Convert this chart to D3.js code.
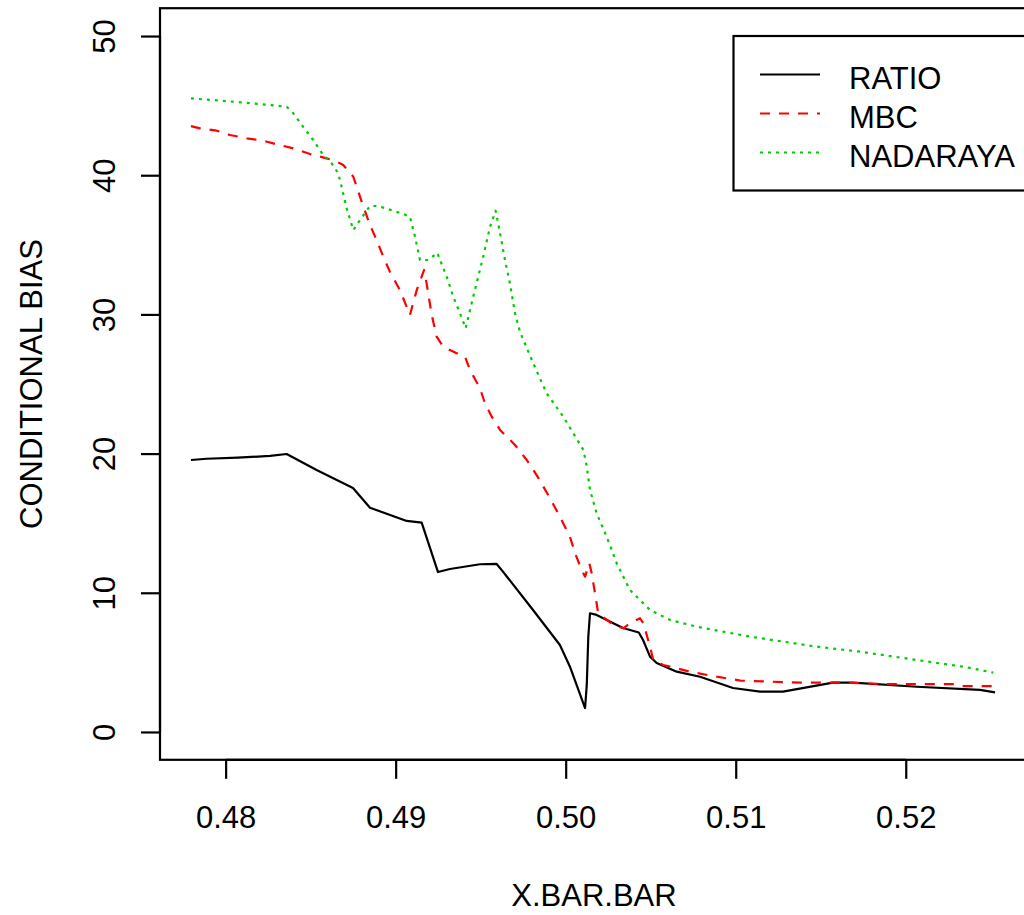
<!DOCTYPE html>
<html>
<head>
<meta charset="utf-8">
<script src="https://cdn.jsdelivr.net/npm/d3@7"></script>
<style>
  body { margin: 0; background: #fff; }
  svg { display: block; font-family: Arial, "Liberation Sans", sans-serif; }
</style>
</head>
<body>
<svg id="chart" width="1024" height="915"></svg>
<script>
// values: [x.bar.bar, conditional bias]
const ratio = [
  [0.47796,19.54],[0.47888,19.63],[0.48072,19.71],[0.48261,19.83],[0.48359,19.97],
  [0.48535,18.82],[0.48749,17.53],[0.48849,16.11],[0.49065,15.16],[0.49153,15.04],
  [0.49249,11.49],[0.49319,11.71],[0.49496,12.05],[0.49594,12.07],[0.49631,11.52],
  [0.49808,8.76],[0.49966,6.25],[0.50025,4.69],[0.50114,1.72],[0.50124,3.38],
  [0.50133,6.85],[0.50143,8.53],[0.50182,8.41],[0.50337,7.47],[0.50430,7.15],
  [0.50455,6.61],[0.50496,5.41],[0.50535,4.96],[0.50653,4.33],[0.50790,3.97],
  [0.50984,3.16],[0.51143,2.90],[0.51278,2.90],[0.51572,3.54],[0.51690,3.54],
  [0.52065,3.25],[0.52437,3.02],[0.52525,2.85]
];

const mbc = [
  [0.47796,43.53],[0.47849,43.37],[0.47947,43.20],[0.48025,42.89],[0.48124,42.65],
  [0.48221,42.48],[0.48300,42.22],[0.48398,41.93],[0.48496,41.52],[0.48594,41.21],
  [0.48643,41.04],[0.48692,40.73],[0.48751,39.89],[0.48800,38.10],[0.48849,36.42],
  [0.48888,35.34],[0.48927,34.15],[0.48966,33.07],[0.49025,31.75],[0.49084,29.96],
  [0.49124,31.75],[0.49167,33.19],[0.49182,32.23],[0.49212,29.96],[0.49241,28.40],
  [0.49280,27.68],[0.49359,27.21],[0.49408,26.96],[0.49437,26.01],[0.49496,24.69],
  [0.49525,23.61],[0.49565,22.65],[0.49614,21.70],[0.49702,20.62],[0.49771,19.54],
  [0.49829,18.46],[0.49908,16.79],[0.49966,15.47],[0.50025,14.03],[0.50055,12.84],
  [0.50094,11.64],[0.50114,11.16],[0.50139,12.12],[0.50153,11.40],[0.50182,9.25],
  [0.50191,8.53],[0.50280,7.69],[0.50339,7.45],[0.50378,7.81],[0.50437,8.17],
  [0.50457,7.81],[0.50496,6.13],[0.50515,5.17],[0.50574,4.81],[0.50653,4.58],
  [0.50731,4.33],[0.50888,3.97],[0.51028,3.69],[0.51379,3.54],[0.51653,3.54],
  [0.51889,3.43],[0.52280,3.43],[0.52339,3.30],[0.52525,3.30]
];

const nadaraya = [
  [0.47796,45.52],[0.47947,45.38],[0.48084,45.24],[0.48221,45.09],[0.48359,44.92],
  [0.48398,44.45],[0.48456,43.48],[0.48515,42.53],[0.48574,41.45],[0.48624,40.85],
  [0.48662,40.14],[0.48682,39.17],[0.48712,37.62],[0.48751,36.06],[0.48790,36.78],
  [0.48849,37.79],[0.48898,37.79],[0.49045,37.21],[0.49084,37.02],[0.49114,35.58],
  [0.49143,33.91],[0.49192,33.91],[0.49245,34.43],[0.49261,33.91],[0.49300,32.71],
  [0.49339,31.27],[0.49378,30.08],[0.49412,29.00],[0.49456,31.27],[0.49515,34.15],
  [0.49555,36.30],[0.49588,37.45],[0.49614,35.83],[0.49643,33.91],[0.49672,32.23],
  [0.49702,30.08],[0.49731,28.76],[0.49809,26.49],[0.49888,24.33],[0.49986,22.65],
  [0.50104,20.26],[0.50124,19.06],[0.50143,17.39],[0.50182,15.71],[0.50241,14.03],
  [0.50300,12.12],[0.50378,10.20],[0.50496,8.76],[0.50614,8.05],[0.50771,7.56],
  [0.51084,6.85],[0.51476,6.13],[0.51731,5.77],[0.52065,5.17],[0.52359,4.65],
  [0.52515,4.26]
];

const xTicks = [0.48, 0.49, 0.50, 0.51, 0.52];
const yTicks = [0, 10, 20, 30, 40, 50];
const seriesNames = ['RATIO', 'MBC', 'NADARAYA'];

const series = [
  { name: seriesNames[0], data: ratio, color: '#000000', dash: null },
  { name: seriesNames[1], data: mbc, color: '#FF0000', dash: '10,9' },
  { name: seriesNames[2], data: nadaraya, color: '#00CD00', dash: '3,5' }
];

const svg = d3.select('#chart');
const fontSize = 31;

// plot region (right edge runs just past the picture, like the original)
const plotLeft = 160, plotRight = 1028, plotTop = 8.2, plotBottom = 759.8;

const x = d3.scaleLinear().domain([0.47614, 0.52719]).range([plotLeft, plotRight]);
const y = d3.scaleLinear().domain([-2, 52]).range([plotBottom, plotTop]);

svg.append('defs').append('clipPath').attr('id', 'plotClip')
  .append('rect')
  .attr('x', plotLeft).attr('y', plotTop)
  .attr('width', plotRight - plotLeft).attr('height', plotBottom - plotTop);

// lines
const line = d3.line().x(d => x(d[0])).y(d => y(d[1]));
const lines = svg.append('g').attr('clip-path', 'url(#plotClip)');
series.forEach(s => {
  lines.append('path')
    .attr('d', line(s.data))
    .attr('fill', 'none')
    .attr('stroke', s.color)
    .attr('stroke-width', 2.2)
    .attr('stroke-linejoin', 'round')
    .attr('stroke-dasharray', s.dash);
});

// box
svg.append('rect')
  .attr('x', plotLeft).attr('y', plotTop)
  .attr('width', plotRight - plotLeft).attr('height', plotBottom - plotTop)
  .attr('fill', 'none').attr('stroke', '#000').attr('stroke-width', 2.2);

// x axis
const xAxis = svg.append('g').attr('transform', `translate(0,${plotBottom})`)
  .call(d3.axisBottom(x).tickValues(xTicks).tickFormat(d3.format('.2f'))
    .tickSize(19).tickPadding(27));
xAxis.select('.domain')
  .attr('d', `M${x(xTicks[0])},0H${x(xTicks[xTicks.length - 1])}`)
  .attr('stroke-width', 2.2);
xAxis.selectAll('.tick line').attr('stroke-width', 2.2);
xAxis.selectAll('.tick text')
  .attr('font-size', fontSize).attr('font-family', 'Arial, "Liberation Sans", sans-serif')
  .attr('fill', '#000');

// y axis, labels turned on their side
const yAxis = svg.append('g').attr('transform', `translate(${plotLeft},0)`)
  .call(d3.axisLeft(y).tickValues(yTicks).tickSize(19).tickFormat(d3.format('d')));
yAxis.select('.domain')
  .attr('d', `M0,${y(yTicks[0])}V${y(yTicks[yTicks.length - 1])}`)
  .attr('stroke-width', 2.2);
yAxis.selectAll('.tick line').attr('stroke-width', 2.2);
yAxis.selectAll('.tick text')
  .attr('x', null).attr('dy', null)
  .attr('transform', 'translate(-45,0) rotate(-90)')
  .attr('text-anchor', 'middle')
  .attr('font-size', fontSize).attr('font-family', 'Arial, "Liberation Sans", sans-serif')
  .attr('fill', '#000');

// axis titles
svg.append('text')
  .attr('x', (plotLeft + plotRight) / 2).attr('y', 906)
  .attr('text-anchor', 'middle').attr('font-size', fontSize)
  .text('X.BAR.BAR');

svg.append('text')
  .attr('transform', `translate(41.5,${(plotTop + plotBottom) / 2}) rotate(-90)`)
  .attr('text-anchor', 'middle').attr('font-size', fontSize)
  .text('CONDITIONAL BIAS');

// legend
const legend = svg.append('g');
legend.append('rect')
  .attr('x', 733.5).attr('y', 36)
  .attr('width', 320).attr('height', 154.5)
  .attr('fill', '#fff').attr('stroke', '#000').attr('stroke-width', 2.2);

series.forEach((s, i) => {
  const ly = 74.5 + i * 39;
  legend.append('line')
    .attr('x1', 760).attr('x2', 820).attr('y1', ly).attr('y2', ly)
    .attr('stroke', s.color).attr('stroke-width', 2.2)
    .attr('stroke-dasharray', s.dash);
  legend.append('text')
    .attr('x', 849).attr('y', ly + 14.5)
    .attr('font-size', fontSize)
    .text(s.name);
});
</script>
</body>
</html>
